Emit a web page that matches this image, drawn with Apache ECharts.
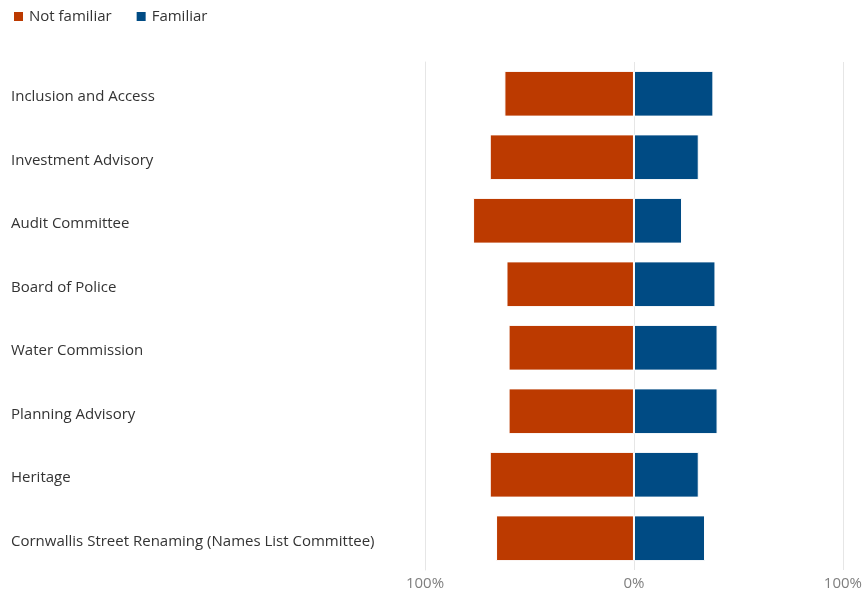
<!DOCTYPE html>
<html>
<head>
<meta charset="utf-8">
<script src="https://cdn.jsdelivr.net/npm/echarts@6/dist/echarts.min.js"></script>
<style>
  html, body { margin: 0; padding: 0; background: #fff; }
  #chart { width: 865px; height: 597px; }
</style>
</head>
<body>
<div id="chart"></div>
<script>
// Committees, top to bottom
const categories = [
  'Inclusion and Access',
  'Investment Advisory',
  'Audit Committee',
  'Board of Police',
  'Water Commission',
  'Planning Advisory',
  'Heritage',
  'Cornwallis Street Renaming (Names List Committee)'
];
// Share of respondents, percent
const notFamiliar = [62, 69, 77, 61, 60, 60, 69, 66];
const familiar = [38, 31, 23, 39, 40, 40, 31, 34];
const xTicks = [-100, 0, 100];

const chart = echarts.init(document.getElementById('chart'));
const FONT = '"Open Sans", "Noto Sans", sans-serif';

chart.setOption({
  animation: false,
  textStyle: { fontFamily: FONT },
  legend: {
    left: 7,
    top: 4,
    itemWidth: 11,
    itemHeight: 11,
    itemGap: 23,
    icon: 'rect',
    textStyle: { fontSize: 15, color: '#333', fontFamily: FONT },
    data: ['Not familiar', 'Familiar']
  },
  grid: { left: 425, right: 22, top: 62, bottom: 27, containLabel: false },
  xAxis: {
    type: 'value',
    min: -100,
    max: 100,
    interval: 100,
    axisLine: { show: false },
    axisTick: { show: false },
    splitLine: { show: true, lineStyle: { color: '#e6e6e6', width: 1 } },
    axisLabel: {
      color: '#7f7f7f',
      fontSize: 15,
      fontFamily: FONT,
      margin: 6,
      formatter: v => xTicks.includes(v) ? Math.abs(v) + '%' : ''
    }
  },
  yAxis: {
    type: 'category',
    inverse: true,
    data: categories,
    axisLine: { show: true, onZero: false, lineStyle: { color: '#e6e6e6' } },
    axisTick: { show: false },
    axisLabel: {
      align: 'left',
      margin: 414,
      formatter: v => '{t|' + v + '}',
      rich: {
        t: {
          color: '#333',
          fontSize: 15,
          fontFamily: FONT,
          padding: [6, 0, 0, 0]
        }
      }
    }
  },
  series: [
    {
      name: 'Not familiar',
      type: 'bar',
      stack: 'total',
      barCategoryGap: '28%',
      itemStyle: { color: '#bc3a00', borderColor: '#fff', borderWidth: 1 },
      data: notFamiliar.map(v => -v)
    },
    {
      name: 'Familiar',
      type: 'bar',
      stack: 'total',
      barCategoryGap: '28%',
      itemStyle: { color: '#004b84', borderColor: '#fff', borderWidth: 1 },
      data: familiar
    }
  ]
});
</script>
</body>
</html>
